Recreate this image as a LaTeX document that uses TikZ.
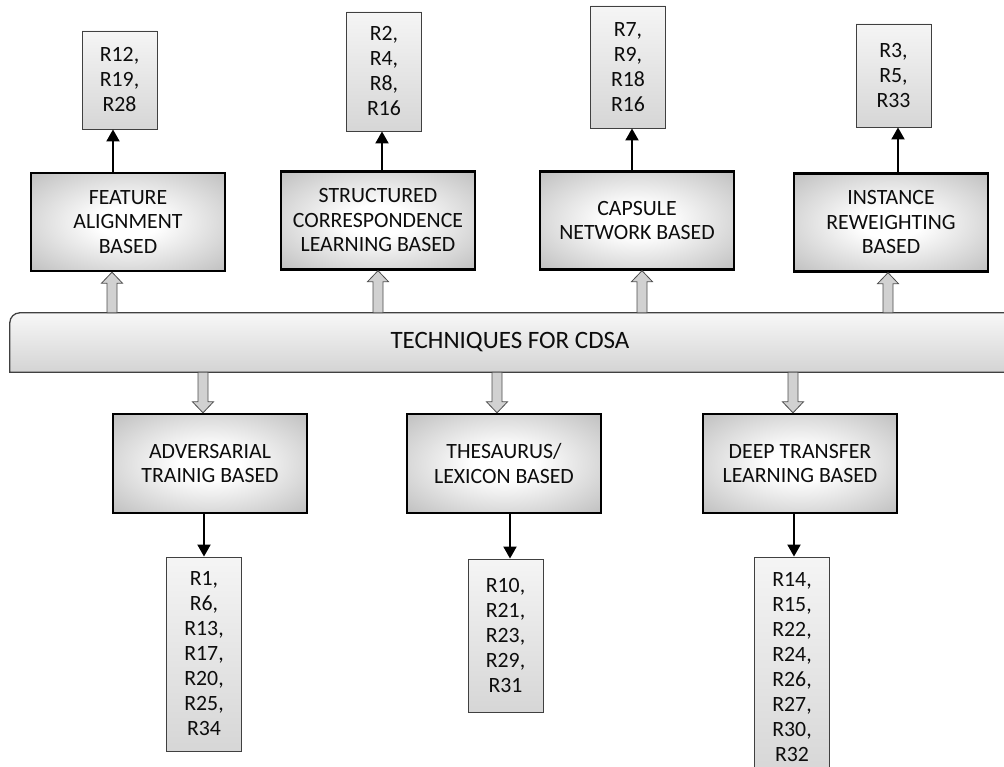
\documentclass[tikz,border=0pt]{standalone}
\usepackage{fontspec}
\setmainfont{Carlito}
\usetikzlibrary{arrows.meta,calc}
\definecolor{shA}{gray}{1}
\definecolor{shB}{gray}{0.62}
\definecolor{shC}{gray}{0.54}
\definecolor{refTop}{gray}{0.96}
\definecolor{refBot}{gray}{0.84}
\definecolor{barTop}{gray}{0.97}
\definecolor{barBot}{gray}{0.83}
\definecolor{fatFill}{gray}{0.82}
\definecolor{txt}{gray}{0.05}
\pgfdeclareradialshading{boxshade}{\pgfpoint{0bp}{0bp}}{color(0bp)=(shA); color(8bp)=(shA); color(50bp)=(shB); color(71bp)=(shC)}
\newcommand\fatup[2]{\draw[fat] let \p1=(#1), \p2=(#2) in (\x1,\y1) -- (\x1+10.5pt,\y1-11pt) -- (\x1+5pt,\y1-11pt) -- (\x1+5pt,\y2) -- (\x1-5pt,\y2) -- (\x1-5pt,\y1-11pt) -- (\x1-10.5pt,\y1-11pt) -- cycle;}
\newcommand\fatdown[2]{\draw[fat] let \p1=(#1), \p2=(#2) in (\x1,\y1) -- (\x1+10.5pt,\y1+11pt) -- (\x1+5pt,\y1+11pt) -- (\x1+5pt,\y2) -- (\x1-5pt,\y2) -- (\x1-5pt,\y1+11pt) -- (\x1-10.5pt,\y1+11pt) -- cycle;}
\begin{document}
\begin{tikzpicture}[x=1pt,y=-1pt,
  mainbox/.style={draw=black, line width=2.4pt, shading=boxshade, minimum width=194pt, minimum height=98pt, inner sep=0pt, align=center, text=txt, font=\fontsize{21.8}{24.5}\selectfont},
  refbox/.style={draw=black!75, line width=0.9pt, top color=refTop, bottom color=refBot, minimum width=75pt, inner sep=0pt, align=center, text=txt, font=\fontsize{21.8}{25}\selectfont},
  blk/.style={line width=2pt, -{Triangle[width=13pt,length=12pt]}},
  fat/.style={draw=black!70, line width=0.8pt, fill=fatFill},
  barline/.style={draw=black!75, line width=1.3pt, top color=barTop, bottom color=barBot}]
\useasboundingbox (0,0) rectangle (1004,767);
\clip (0,0) rectangle (1004,767);
% main bar
\node[minimum width=1000pt, minimum height=59pt, inner sep=0pt] (bar) at (510,342.5) {};
\path[barline] (bar.south west) -- ([yshift=-10pt]bar.north west) arc[start angle=180, end angle=90, radius=10pt] -- (bar.north east) -- (bar.south east) -- cycle;
\node[text=txt, font=\fontsize{25}{29}\selectfont] (bartext) at (bar.center) {TECHNIQUES FOR CDSA};
% technique boxes
\node[mainbox] (feat) at (128,222) {FEATURE\\ALIGNMENT\\BASED};
\node[mainbox] (struc) at (378,220.5) {STRUCTURED\\CORRESPONDENCE\\LEARNING BASED};
\node[mainbox] (caps) at (637,220.5) {CAPSULE\\NETWORK BASED};
\node[mainbox] (inst) at (891,222.5) {INSTANCE\\REWEIGHTING\\BASED};
\node[mainbox, minimum height=99pt] (adv) at (210,463.5) {ADVERSARIAL\\TRAINIG BASED};
\node[mainbox, minimum height=99pt] (thes) at (504,463.5) {THESAURUS/\\LEXICON BASED};
\node[mainbox, minimum height=99pt] (deep) at (800,463.5) {DEEP TRANSFER\\LEARNING BASED};
% reference boxes
\node[refbox, minimum height=98pt] (r12) at (119.5,80) {R12,\\R19,\\R28};
\node[refbox, minimum height=119pt] (r2) at (384,71.5) {R2,\\R4,\\R8,\\R16};
\node[refbox, minimum height=122pt] (r7) at (628,67) {R7,\\R9,\\R18\\R16};
\node[refbox, minimum height=103pt] (r3) at (893.5,75.5) {R3,\\R5,\\R33};
\node[refbox, minimum height=194pt] (r1) at (204,654) {R1,\\R6,\\R13,\\R17,\\R20,\\R25,\\R34};
\node[refbox, minimum height=153pt] (r10) at (505.5,635.5) {R10,\\R21,\\R23,\\R29,\\R31};
\node[refbox, minimum height=220pt] (r14) at (792,667) {R14,\\R15,\\R22,\\R24,\\R26,\\R27,\\R30,\\R32};
% fat arrows
\fatup{[xshift=-16pt]feat.south}{bar.north}
\fatup{struc.south}{bar.north}
\fatup{[xshift=5pt]caps.south}{bar.north}
\fatup{[xshift=-3pt]inst.south}{bar.north}
\fatdown{[xshift=-7pt]adv.north}{bar.south}
\fatdown{[xshift=-7pt]thes.north}{bar.south}
\fatdown{[xshift=-7pt]deep.north}{bar.south}
% black arrows
\draw[blk] let \p1=([xshift=-15pt]feat.north), \p2=(r12.south) in (\p1) -- (\x1,\y2);
\draw[blk] let \p1=([xshift=4pt]struc.north), \p2=(r2.south) in (\p1) -- (\x1,\y2);
\draw[blk] let \p1=([xshift=-5pt]caps.north), \p2=(r7.south) in (\p1) -- (\x1,\y2);
\draw[blk] let \p1=([xshift=7pt]inst.north), \p2=(r3.south) in (\p1) -- (\x1,\y2);
\draw[blk] let \p1=([xshift=-6pt]adv.south), \p2=(r1.north) in (\p1) -- (\x1,\y2);
\draw[blk] let \p1=([xshift=6pt]thes.south), \p2=(r10.north) in (\p1) -- (\x1,\y2);
\draw[blk] let \p1=([xshift=-6pt]deep.south), \p2=(r14.north) in (\p1) -- (\x1,\y2);
\end{tikzpicture}
\end{document}
